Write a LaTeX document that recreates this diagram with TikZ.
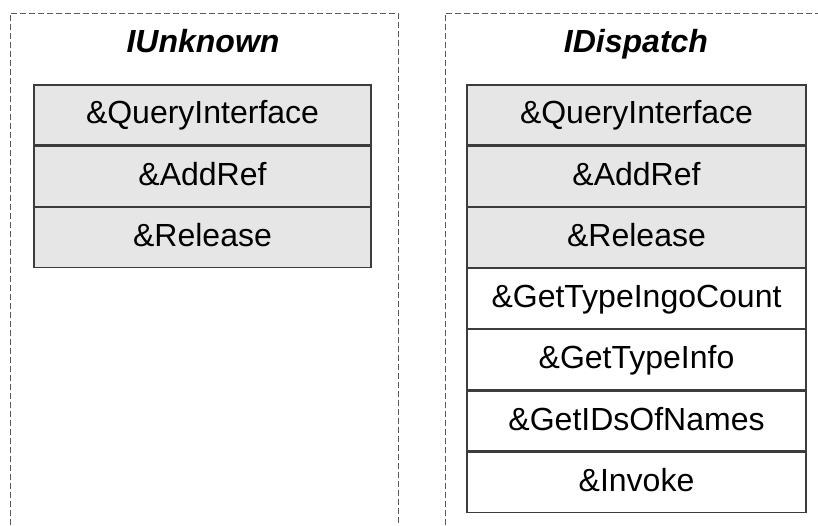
\documentclass[tikz,border=0pt]{standalone}
\usepackage{fontspec}
\setmainfont{Liberation Sans}
\usepackage{xcolor}
\usepackage{tikz}
\usetikzlibrary{positioning}

\definecolor{rowgray}{HTML}{E6E6E6}
\definecolor{linegray}{HTML}{3C3C3C}
\definecolor{dashgray}{HTML}{5A5A5A}

\begin{document}
\begin{tikzpicture}[x=1pt, y=1pt,
    panel/.style={draw=dashgray, line width=0.9pt, dash pattern=on 6pt off 3pt},
    title/.style={anchor=base, font=\fontsize{32}{36}\selectfont\bfseries\itshape},
    slot/.style={rectangle, draw=linegray, line width=1.2pt, inner sep=0pt,
      minimum height=60pt, text height=18pt, text depth=0pt,
      font=\fontsize{32}{36}\selectfont},
    base/.style={slot, fill=rowgray},
    own/.style={slot, fill=white}
    ]
    \useasboundingbox (0,0) rectangle (818,525);
    % dashed panels
    \draw[panel] (10,0) -- (10,512) -- (398,512) -- (398,0);
    \draw[panel] (445,0) -- (445,512) -- (818,512);

    \node[title] (unkTitle) at (203,472) {IUnknown};
    \node[title] (dispTitle) at (636,472) {IDispatch};

    % IUnknown vtable
    \node[base, minimum width=337pt] (unkQI) at (202.5,410) {\&QueryInterface};
    \node[base, minimum width=337pt, below=0pt of unkQI] (unkAdd) {\&AddRef};
    \node[base, minimum width=337pt, below=0pt of unkAdd] (unkRel) {\&Release};

    % IDispatch vtable
    \node[base, minimum width=339pt] (dispQI) at (636.5,410) {\&QueryInterface};
    \node[base, minimum width=339pt, below=0pt of dispQI] (dispAdd) {\&AddRef};
    \node[base, minimum width=339pt, below=0pt of dispAdd] (dispRel) {\&Release};
    \node[own, minimum width=339pt, below=0pt of dispRel] (dispCount) {\&GetTypeIngoCount};
    \node[own, minimum width=339pt, below=0pt of dispCount] (dispInfo) {\&GetTypeInfo};
    \node[own, minimum width=339pt, below=0pt of dispInfo] (dispIDs) {\&GetIDsOfNames};
    \node[own, minimum width=339pt, below=0pt of dispIDs] (dispInv) {\&Invoke};
\end{tikzpicture}
\end{document}
